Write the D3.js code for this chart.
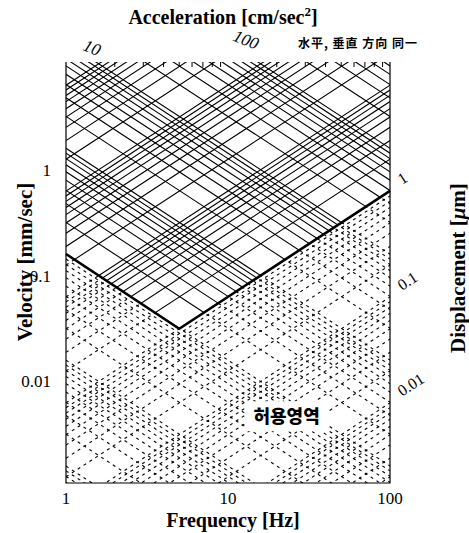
<!DOCTYPE html>
<html>
<head>
<meta charset="utf-8">
<script src="https://cdn.jsdelivr.net/npm/d3@7"></script>
<style>
  body { margin: 0; background: #fff; }
  svg { display: block; }
</style>
</head>
<body>
<div id="chart"></div>
<script>
// axis ticks
var freqTicks = [1, 10, 100];
var velTicks = [0.01, 0.1, 1];
var velTickLabels = ["0.01", "0.1", "1"];

// diagonal grid: m x 10^k
var gridMult = [1, 2, 3, 4, 5, 6, 7, 8, 9];
var accelExp = [-4, -3, -2, -1, 0, 1, 2, 3];      // cm/sec^2
var dispExp = [-3, -2, -1, 0, 1, 2, 3, 4];        // um

var accelLabels = [10, 100];          // cm/sec^2
var dispLabels = [1, 0.1, 0.01];      // um
var dispLabelText = ["1", "0.1", "0.01"];

// criterion curve (allowable region below)
var curveFreq = [1, 5, 100];
var curveVel = [0.16, 0.0315, 0.63];

var width = 469, height = 533;
var margin = {top: 62, right: 79, bottom: 50, left: 66};

var svg = d3.select("#chart").append("svg")
    .attr("width", width)
    .attr("height", height);

var x = d3.scaleLog().domain([1, 100]).range([margin.left, width - margin.right]);
var y = d3.scaleLog().domain([0.0011, 10.4]).range([height - margin.bottom, margin.top]);

var x0 = x.range()[0], x1 = x.range()[1];
var yTop = y.range()[1], yBot = y.range()[0];

var curve = curveFreq.map(function(f, i) { return [x(f), y(curveVel[i])]; });

var defs = svg.append("defs");
defs.append("clipPath").attr("id", "above")
    .append("polygon")
    .attr("points", curve.concat([[x1, yTop], [x0, yTop]]).map(function(p) { return p.join(","); }).join(" "));
defs.append("clipPath").attr("id", "below")
    .append("polygon")
    .attr("points", curve.concat([[x1, yBot], [x0, yBot]]).map(function(p) { return p.join(","); }).join(" "));

// build the diagonal lines (velocity vs frequency)
var lines = [];
accelExp.forEach(function(k) {
    gridMult.forEach(function(m) {
        var a = m * Math.pow(10, k) * 10; // mm/sec^2
        lines.push(freqTicks.map(function(f) { return [f, a / (2 * Math.PI * f)]; }));
    });
});
dispExp.forEach(function(k) {
    gridMult.forEach(function(m) {
        var d = m * Math.pow(10, k) / 1000; // mm
        lines.push(freqTicks.map(function(f) { return [f, 2 * Math.PI * f * d]; }));
    });
});

var line = d3.line()
    .x(function(d) { return x(d[0]); })
    .y(function(d) { return y(d[1]); });

var solid = svg.append("g").attr("clip-path", "url(#above)");
solid.selectAll("path")
    .data(lines)
    .enter().append("path")
    .attr("d", line)
    .attr("fill", "none")
    .attr("stroke", "#000")
    .attr("stroke-width", 1.1);

var dashed = svg.append("g").attr("clip-path", "url(#below)");
dashed.selectAll("path")
    .data(lines)
    .enter().append("path")
    .attr("d", line)
    .attr("fill", "none")
    .attr("stroke", "#000")
    .attr("stroke-width", 1.1)
    .attr("stroke-dasharray", "3,4");

// criterion curve
svg.append("path")
    .datum(curveFreq.map(function(f, i) { return [f, curveVel[i]]; }))
    .attr("d", line)
    .attr("fill", "none")
    .attr("stroke", "#000")
    .attr("stroke-width", 2.6);

// frame
svg.append("path")
    .attr("d", "M" + x0 + "," + yTop + " V" + yBot + " H" + x1 + " V" + yTop)
    .attr("fill", "none")
    .attr("stroke", "#000")
    .attr("stroke-width", 1.2);

// small ticks on top edge
var minorF = [];
[1, 10].forEach(function(b) { [2, 3, 4, 5, 6, 7, 8, 9].forEach(function(m) { minorF.push(b * m); }); });
svg.append("g").selectAll("line")
    .data(minorF)
    .enter().append("line")
    .attr("x1", function(d) { return x(d); })
    .attr("x2", function(d) { return x(d); })
    .attr("y1", yTop)
    .attr("y2", yTop + 5)
    .attr("stroke", "#000")
    .attr("stroke-width", 1);

var serif = "'Liberation Serif', 'Times New Roman', serif";

// x tick labels
svg.append("g").selectAll("text")
    .data(freqTicks)
    .enter().append("text")
    .attr("x", function(d) { return x(d); })
    .attr("y", yBot + 21)
    .attr("text-anchor", "middle")
    .attr("font-family", serif)
    .attr("font-size", 17)
    .text(function(d) { return d; });

// y tick labels
svg.append("g").selectAll("text")
    .data(velTicks)
    .enter().append("text")
    .attr("x", x0 - 15)
    .attr("y", function(d) { return y(d) + 6; })
    .attr("text-anchor", "end")
    .attr("font-family", serif)
    .attr("font-size", 17)
    .text(function(d, i) { return velTickLabels[i]; });

// acceleration labels along the top
svg.append("g").selectAll("text")
    .data(accelLabels)
    .enter().append("text")
    .attr("transform", function(d, i) {
        var f = d * 10 / (2 * Math.PI * y.domain()[1]);
        var tx = x(f) - 6 - i * 8, ty = yTop - 9 - i * 8;
        return "translate(" + tx + "," + ty + ") rotate(22)";
    })
    .attr("text-anchor", "middle")
    .attr("font-family", serif)
    .attr("font-style", "italic")
    .attr("font-size", 17)
    .text(function(d) { return d; });

// displacement labels on the right
svg.append("g").selectAll("text")
    .data(dispLabels)
    .enter().append("text")
    .attr("transform", function(d) {
        var v = 2 * Math.PI * 100 * d / 1000;
        return "translate(" + (x1 + 12) + "," + (y(v) - 6) + ") rotate(-33)";
    })
    .attr("font-family", serif)
    .attr("font-size", 16)
    .text(function(d, i) { return dispLabelText[i]; });

// axis titles
svg.append("text")
    .attr("x", 223)
    .attr("y", 24)
    .attr("text-anchor", "middle")
    .attr("font-family", serif)
    .attr("font-weight", "bold")
    .attr("font-size", 20)
    .text("Acceleration [cm/sec")
    .append("tspan").attr("dy", -8).attr("font-size", 13).text("2")
    .select(function() { return this.parentNode; })
    .append("tspan").attr("dy", 8).text("]");

svg.append("text")
    .attr("x", 233)
    .attr("y", 527)
    .attr("text-anchor", "middle")
    .attr("font-family", serif)
    .attr("font-weight", "bold")
    .attr("font-size", 20)
    .text("Frequency [Hz]");

svg.append("text")
    .attr("transform", "translate(32,262) rotate(-90)")
    .attr("text-anchor", "middle")
    .attr("font-family", serif)
    .attr("font-weight", "bold")
    .attr("font-size", 21)
    .text("Velocity [mm/sec]");

var disp = svg.append("text")
    .attr("transform", "translate(465,268) rotate(-90)")
    .attr("text-anchor", "middle")
    .attr("font-family", serif)
    .attr("font-weight", "bold")
    .attr("font-size", 21);
disp.append("tspan").text("Displacement [");
disp.append("tspan").attr("font-style", "italic").text("\u03bc");
disp.append("tspan").text("m]");

// note
svg.append("text")
    .attr("x", 298)
    .attr("y", 48)
    .attr("font-family", "'Noto Sans CJK JP', sans-serif")
    .attr("font-weight", "bold")
    .attr("font-size", 12)
    .attr("letter-spacing", 1)
    .text("水平, 垂直 方向 同一");

// allowable region label
var lx = x(23), ly = y(0.0047);
svg.append("rect")
    .attr("x", lx - 41)
    .attr("y", ly - 15)
    .attr("width", 82)
    .attr("height", 30)
    .attr("fill", "#fff");
svg.append("text")
    .attr("x", lx)
    .attr("y", ly + 7)
    .attr("text-anchor", "middle")
    .attr("font-family", "'Noto Sans CJK KR', sans-serif")
    .attr("font-weight", 900)
    .attr("font-size", 18)
    .text("허용영역");
</script>
</body>
</html>
